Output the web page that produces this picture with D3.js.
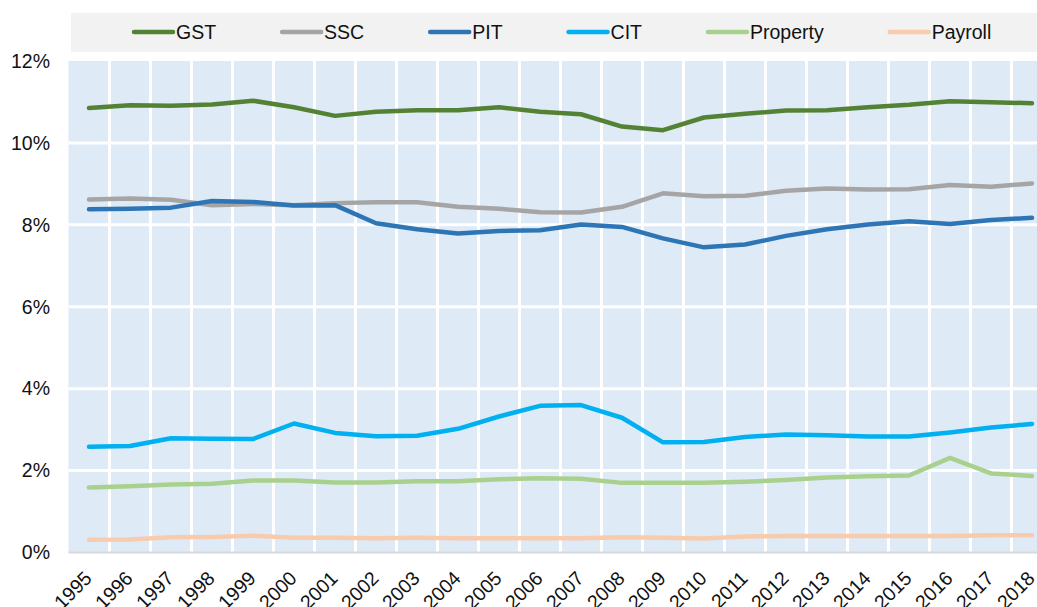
<!DOCTYPE html>
<html>
<head>
<meta charset="utf-8">
<script src="https://cdn.jsdelivr.net/npm/d3@7"></script>
<style>
  html, body { margin: 0; padding: 0; background: #fff; }
  svg { display: block; font-family: "Liberation Sans", Arial, sans-serif; }
</style>
</head>
<body>
<svg id="chart" width="1037" height="607"></svg>
<script>
// tax revenue shares, % of GDP, 1995-2018
const YEARS = d3.range(1995, 2019).map(String);
const Y_TICKS = [0, 2, 4, 6, 8, 10, 12];

const GST = [10.85, 10.92, 10.91, 10.94, 11.03, 10.87, 10.66, 10.76, 10.80, 10.80, 10.87, 10.76,
  10.70, 10.40, 10.31, 10.62, 10.71, 10.79, 10.80, 10.87, 10.93, 11.02, 10.99, 10.97];
const SSC = [8.62, 8.64, 8.61, 8.48, 8.51, 8.48, 8.53, 8.55, 8.55, 8.44, 8.39, 8.31,
  8.30, 8.44, 8.77, 8.70, 8.71, 8.83, 8.89, 8.86, 8.87, 8.97, 8.93, 9.01];
const PIT = [8.38, 8.39, 8.42, 8.58, 8.56, 8.47, 8.48, 8.04, 7.89, 7.79, 7.85, 7.87,
  8.01, 7.95, 7.67, 7.45, 7.52, 7.73, 7.89, 8.01, 8.09, 8.02, 8.12, 8.17];
const CIT = [2.58, 2.60, 2.79, 2.78, 2.77, 3.15, 2.92, 2.84, 2.85, 3.02, 3.32, 3.58,
  3.60, 3.29, 2.69, 2.70, 2.82, 2.88, 2.86, 2.83, 2.83, 2.93, 3.05, 3.14];
const PROPERTY = [1.59, 1.62, 1.66, 1.68, 1.76, 1.76, 1.71, 1.71, 1.74, 1.74, 1.79, 1.81,
  1.80, 1.70, 1.70, 1.70, 1.73, 1.77, 1.83, 1.86, 1.88, 2.31, 1.93, 1.87];
const PAYROLL = [0.31, 0.32, 0.37, 0.38, 0.41, 0.36, 0.36, 0.35, 0.36, 0.35, 0.35, 0.35,
  0.35, 0.37, 0.36, 0.34, 0.39, 0.40, 0.40, 0.40, 0.40, 0.40, 0.42, 0.42];

const SERIES = [
  { name: "GST", values: GST, color: "#548235" },
  { name: "SSC", values: SSC, color: "#a5a5a5" },
  { name: "PIT", values: PIT, color: "#2e75b6" },
  { name: "CIT", values: CIT, color: "#00b0f0" },
  { name: "Property", values: PROPERTY, color: "#a9d18e" },
  { name: "Payroll", values: PAYROLL, color: "#f8cbad" },
];

const FONT = 19.5;
const svg = d3.select("#chart");

// plot area runs off the right edge, like the original
const x = d3.scaleBand().domain(YEARS).range([68.5, 1052.5]).paddingInner(0).paddingOuter(0);
const y = d3.scaleLinear().domain([0, 12]).range([552.5, 61]);
const cx = (yr) => x(yr) + x.bandwidth() / 2;

// background
svg.append("rect")
  .attr("x", x.range()[0])
  .attr("y", y(12))
  .attr("width", x.range()[1] - x.range()[0])
  .attr("height", y(0) - y(12))
  .attr("fill", "#deeaf6");

// white grid: category boundaries and value ticks
svg.append("g")
  .selectAll("line")
  .data(YEARS.slice(1))
  .join("line")
  .attr("x1", (d) => x(d))
  .attr("x2", (d) => x(d))
  .attr("y1", y(12))
  .attr("y2", y(0))
  .attr("stroke", "#fff")
  .attr("stroke-width", 3);

svg.append("g")
  .selectAll("line")
  .data(Y_TICKS.filter((t) => t > 0 && t < 12))
  .join("line")
  .attr("x1", x.range()[0])
  .attr("x2", x.range()[1])
  .attr("y1", (d) => y(d))
  .attr("y2", (d) => y(d))
  .attr("stroke", "#fff")
  .attr("stroke-width", 3);

// zero line
svg.append("line")
  .attr("x1", x.range()[0])
  .attr("x2", x.range()[1])
  .attr("y1", y(0))
  .attr("y2", y(0))
  .attr("stroke", "#d9d9d9")
  .attr("stroke-width", 2);

// y axis labels
const yAxis = svg.append("g")
  .attr("transform", "translate(50,0)")
  .call(d3.axisLeft(y).tickValues(Y_TICKS).tickFormat((d) => d + "%").tickSize(0).tickPadding(0));
yAxis.select(".domain").remove();
yAxis.selectAll("text")
  .attr("font-size", FONT)
  .attr("font-family", "Liberation Sans, Arial, sans-serif")
  .attr("fill", "#111");

// x axis labels, rotated
const xAxis = svg.append("g")
  .attr("transform", `translate(0,${y(0)})`)
  .call(d3.axisBottom(x).tickSize(0).tickPadding(0));
xAxis.select(".domain").remove();
xAxis.selectAll("text")
  .attr("font-size", FONT)
  .attr("font-family", "Liberation Sans, Arial, sans-serif")
  .attr("fill", "#111")
  .attr("text-anchor", "end")
  .attr("dy", null)
  .attr("y", 0)
  .attr("transform", "translate(4,27) rotate(-45)");

// series lines
const line = d3.line()
  .x((d, i) => cx(YEARS[i]))
  .y((d) => y(d));

svg.append("g")
  .selectAll("path")
  .data(SERIES)
  .join("path")
  .attr("fill", "none")
  .attr("stroke", (d) => d.color)
  .attr("stroke-width", 4.5)
  .attr("stroke-linecap", "round")
  .attr("stroke-linejoin", "round")
  .attr("d", (d) => line(d.values));

// legend
svg.append("rect")
  .attr("x", 71)
  .attr("y", 13)
  .attr("width", 1037 - 71)
  .attr("height", 39)
  .attr("fill", "#f2f2f2");

const legend = svg.append("g").attr("transform", "translate(134,32)");
let lx = 0;
SERIES.forEach((s) => {
  const g = legend.append("g").attr("transform", `translate(${lx},0)`);
  g.append("line")
    .attr("x1", 0)
    .attr("x2", 39)
    .attr("stroke", s.color)
    .attr("stroke-width", 4.5)
    .attr("stroke-linecap", "round");
  const t = g.append("text")
    .attr("x", 42)
    .attr("dy", "0.35em")
    .attr("font-size", FONT)
    .attr("fill", "#111")
    .text(s.name);
  lx += 42 + t.node().getComputedTextLength() + 66;
});
</script>
</body>
</html>
